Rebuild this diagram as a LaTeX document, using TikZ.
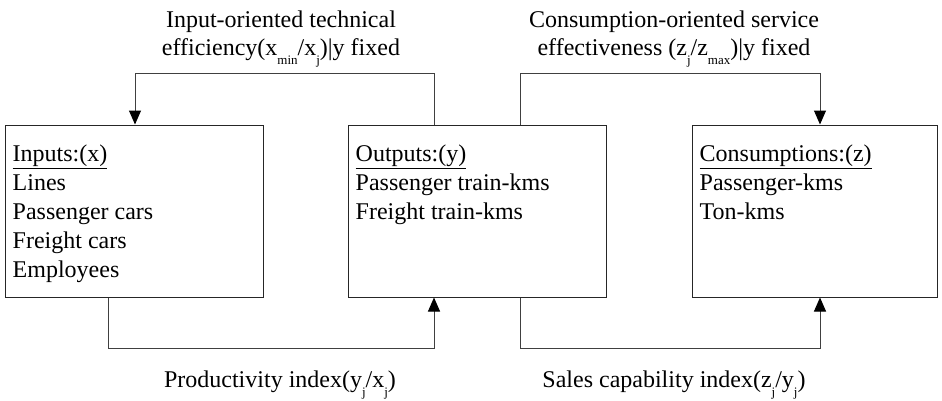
\documentclass[tikz,border=0pt]{standalone}
\usepackage{fontspec}
\setmainfont{Liberation Serif}
\usetikzlibrary{arrows.meta,calc}
\newcommand\sbs[1]{\raisebox{-0.38em}{\fontsize{13}{13}\selectfont #1}}
\begin{document}
\begin{tikzpicture}[x=1pt,y=1pt,
  box/.style={draw=black!85,line width=1pt,minimum height=172pt,inner sep=0pt},
  boxtext/.style={anchor=north west,inner sep=0pt,align=left,font=\fontsize{24}{29}\selectfont},
  lbl/.style={inner sep=0pt,align=center,font=\fontsize{24}{28}\selectfont},
  conn/.style={draw=black!75,line width=1pt,-{Triangle[length=14pt,width=12pt,color=black]}}]
\useasboundingbox (0,0) rectangle (942,400);
\node[box,minimum width=258pt] (in) at (134,189) {};
\node[box,minimum width=258pt] (out) at (477,189) {};
\node[box,minimum width=245pt] (cons) at (814.5,189) {};
\node[boxtext] (intext) at ($(in.north west)+(8,-20.5)$) {\underline{Inputs:(x)}\\Lines\\Passenger cars\\Freight cars\\Employees};
\node[boxtext] (outtext) at ($(out.north west)+(8,-20.5)$) {\underline{Outputs:(y)}\\Passenger train-kms\\Freight train-kms};
\node[boxtext] (constext) at ($(cons.north west)+(8,-20.5)$) {\underline{Consumptions:(z)}\\Passenger-kms\\Ton-kms};
\coordinate (ta) at (434,327);
\coordinate (tb) at (135,327);
\coordinate (tc) at (520,327);
\coordinate (td) at (820,327);
\coordinate (ba) at (108,52);
\coordinate (bb) at (434,52);
\coordinate (bc) at (520,52);
\coordinate (bd) at (820,52);
\draw[conn] (ta |- out.north) -- (ta) -- (tb) -- (tb |- in.north);
\draw[conn] (tc |- out.north) -- (tc) -- (td) -- (td |- cons.north);
\draw[conn] (ba |- in.south) -- (ba) -- (bb) -- (bb |- out.south);
\draw[conn] (bc |- out.south) -- (bc) -- (bd) -- (bd |- cons.south);
\node[lbl] (l1) at (281,361) {Input-oriented technical\\efficiency(x\sbs{min}/x\sbs{j})|y fixed};
\node[lbl] (l2) at (674,361) {Consumption-oriented service\\effectiveness (z\sbs{j}/z\sbs{max})|y fixed};
\node[lbl,anchor=base] (l3) at (280,13) {Productivity index(y\sbs{j}/x\sbs{j})};
\node[lbl,anchor=base] (l4) at (674,13) {Sales capability index(z\sbs{j}/y\sbs{j})};
\end{tikzpicture}
\end{document}
